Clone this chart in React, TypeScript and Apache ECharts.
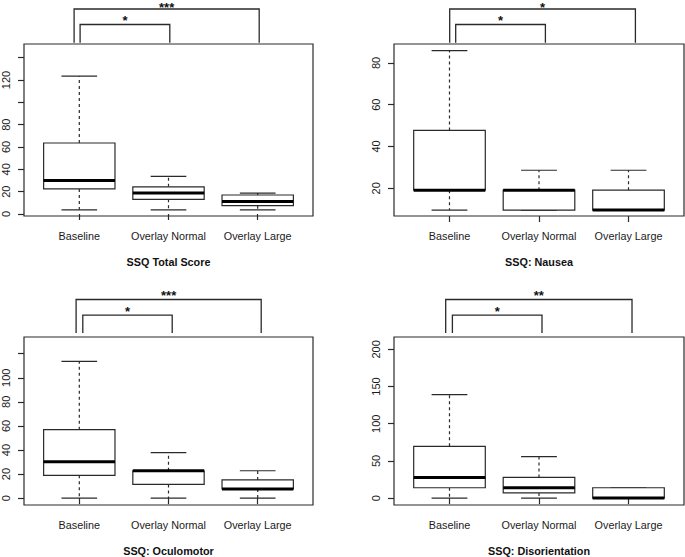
import React, { useEffect, useRef } from "react";
import * as echarts from "echarts";

// ---- data ----
const categories = ["Baseline", "Overlay Normal", "Overlay Large"];

// [min, Q1, median, Q3, max] per category
const totalScore = [
  [3.74, 22.44, 29.92, 63.58, 123.42],
  [3.74, 13.09, 18.7, 24.31, 33.66],
  [3.74, 7.48, 11.22, 17.0, 18.7],
];
const nausea = [
  [9.54, 19.08, 19.08, 47.7, 85.86],
  [9.54, 9.54, 19.08, 19.08, 28.62],
  [9.54, 9.54, 9.54, 19.08, 28.62],
];
const oculomotor = [
  [0, 18.95, 30.32, 56.85, 113.7],
  [0, 11.37, 22.74, 22.74, 37.9],
  [0, 7.58, 7.58, 15.16, 22.74],
];
const disorientation = [
  [0, 13.92, 27.84, 69.6, 139.2],
  [0, 6.96, 13.92, 27.84, 55.68],
  [0, 0, 0, 13.92, 13.92],
];

const titles = ["SSQ Total Score", "SSQ: Nausea", "SSQ: Oculomotor", "SSQ: Disorientation"];

// significance comparisons: [from category, to category, label]
const sigTotal = [[0, 1, "*"], [0, 2, "***"]];
const sigNausea = [[0, 1, "*"], [0, 2, "*"]];
const sigOculo = [[0, 1, "*"], [0, 2, "***"]];
const sigDisor = [[0, 1, "*"], [0, 2, "**"]];

// y-axis ticks and labels
const ticksTotal = [0, 20, 40, 60, 80, 100, 120, 140];
const labelsTotal = [0, 20, 40, 60, 80, 120];
const ticksNausea = [20, 40, 60, 80];
const labelsNausea = [20, 40, 60, 80];
const ticksOculo = [0, 20, 40, 60, 80, 100, 120];
const labelsOculo = [0, 20, 40, 60, 80, 100];
const ticksDisor = [0, 50, 100, 150, 200];
const labelsDisor = [0, 50, 100, 150, 200];

// ---- layout (pixels / axis ranges) ----
const panels = [
  {
    data: totalScore, sig: sigTotal, ticks: ticksTotal, labels: labelsTotal,
    grid: { left: 23, top: 44, width: 290, height: 172 },
    yRange: [-1.8, 152.2],
    br: { outer: 35, inner: 19.5, leg: 1.2 },
    legOff: [[0.8, 1.3], [-5.2, 1.5]],
  },
  {
    data: nausea, sig: sigNausea, ticks: ticksNausea, labels: labelsNausea,
    grid: { left: 394, top: 44, width: 290, height: 172 },
    yRange: [6.72, 89.05],
    br: { outer: 35, inner: 19.5, leg: 1.2 },
    legOff: [[6.2, 6.4], [0.2, 6.9]],
  },
  {
    data: oculomotor, sig: sigOculo, ticks: ticksOculo, labels: labelsOculo,
    grid: { left: 23, top: 337, width: 290, height: 171 },
    yRange: [-5.7, 133.9],
    br: { outer: 37.5, inner: 21.8, leg: 4 },
    legOff: [[3.5, 3.7], [-3.2, 3.5]],
  },
  {
    data: disorientation, sig: sigDisor, ticks: ticksDisor, labels: labelsDisor,
    grid: { left: 394, top: 337, width: 290, height: 171 },
    yRange: [-9.25, 216.6],
    br: { outer: 37.5, inner: 21.8, leg: 4 },
    legOff: [[2.9, 3.0], [-3.8, 3.5]],
  },
];

const FONT = "'Liberation Sans', Arial, Helvetica, sans-serif";
const LINE = "#2a2a2a";

export default function App() {
  const ref = useRef<HTMLDivElement>(null);

  useEffect(() => {
    if (!ref.current) return;
    const chart = echarts.init(ref.current, undefined, { renderer: "svg" });

    const grids: any[] = [];
    const xAxes: any[] = [];
    const yAxes: any[] = [];
    const series: any[] = [];

    panels.forEach((p, i) => {
      grids.push({
        ...p.grid,
        show: true,
        borderColor: LINE,
        borderWidth: 1.2,
        backgroundColor: "transparent",
      });
      xAxes.push({
        type: "value",
        gridIndex: i,
        min: 0.38,
        max: 3.62,
        axisLine: { show: false },
        splitLine: { show: false },
        axisTick: {
          show: true,
          length: 6,
          lineStyle: { color: LINE, width: 1.2 },
          customValues: [1, 2, 3],
        },
        axisLabel: {
          customValues: [1, 2, 3],
          margin: 14.5,
          color: "#1a1a1a",
          fontFamily: FONT,
          fontSize: 10.8,
          formatter: (v: number) => categories[Math.round(v) - 1] ?? "",
        },
        name: titles[i],
        nameLocation: "middle",
        nameGap: 40,
        nameTextStyle: {
          fontFamily: FONT,
          fontSize: 10.8,
          fontWeight: "bold",
          color: "#111",
        },
      });
      yAxes.push({
        type: "value",
        gridIndex: i,
        min: p.yRange[0],
        max: p.yRange[1],
        axisLine: { show: false },
        splitLine: { show: false },
        axisTick: {
          show: true,
          length: 6,
          lineStyle: { color: LINE, width: 1.2 },
          customValues: p.ticks,
        },
        axisLabel: {
          customValues: p.labels,
          rotate: 90,
          margin: 13,
          color: "#1a1a1a",
          fontFamily: FONT,
          fontSize: 11,
        },
      });

      // boxes
      series.push({
        type: "custom",
        xAxisIndex: i,
        yAxisIndex: i,
        data: p.data.map((d, k) => [k + 1, ...d]),
        renderItem: (params: any, api: any) => {
          const cx = api.value(0);
          const pt = (v: number) => api.coord([cx, v]);
          const x = pt(api.value(3))[0];
          const yMin = pt(api.value(1))[1];
          const yQ1 = pt(api.value(2))[1];
          const yMed = pt(api.value(3))[1];
          const yQ3 = pt(api.value(4))[1];
          const yMax = pt(api.value(5))[1];
          const unit = api.size([1, 0])[0];
          const half = unit * 0.4;
          const cap = unit * 0.2;
          const thin = { stroke: LINE, lineWidth: 1.2, fill: null };
          const dashed = { stroke: LINE, lineWidth: 1.2, lineDash: [3, 3], fill: null };
          return {
            type: "group",
            children: [
              { type: "line", shape: { x1: x, y1: yQ3, x2: x, y2: yMax }, style: dashed },
              { type: "line", shape: { x1: x, y1: yQ1, x2: x, y2: yMin }, style: dashed },
              { type: "line", shape: { x1: x - cap, y1: yMax, x2: x + cap, y2: yMax }, style: thin },
              { type: "line", shape: { x1: x - cap, y1: yMin, x2: x + cap, y2: yMin }, style: thin },
              {
                type: "rect",
                shape: { x: x - half, y: yQ3, width: half * 2, height: yQ1 - yQ3 },
                style: { stroke: LINE, lineWidth: 1.2, fill: "#fff" },
              },
              {
                type: "line",
                shape: { x1: x - half, y1: yMed, x2: x + half, y2: yMed },
                style: { stroke: "#000", lineWidth: 3, fill: null },
              },
            ],
          };
        },
      });

      // significance brackets
      series.push({
        type: "custom",
        xAxisIndex: i,
        yAxisIndex: i,
        clip: false,
        silent: true,
        data: p.sig.map((s, k) => [(s[0] as number) + 1, (s[1] as number) + 1, k]),
        renderItem: (params: any, api: any) => {
          const k = api.value(2);
          const s = p.sig[k];
          const off = p.legOff[k];
          const cs = params.coordSys;
          const top = cs && cs.y !== undefined ? cs.y : p.grid.top;
          const xl = api.coord([api.value(0), 0])[0] + off[0];
          const xr = api.coord([api.value(1), 0])[0] + off[1];
          const ly = top - (k === 0 ? p.br.inner : p.br.outer);
          const yb = top - p.br.leg;
          return {
            type: "group",
            children: [
              {
                type: "polyline",
                shape: { points: [[xl, yb], [xl, ly], [xr, ly], [xr, yb]] },
                style: { stroke: LINE, lineWidth: 1.3, fill: null },
              },
              {
                type: "text",
                x: (xl + xr) / 2,
                y: Math.max(ly - 3.6, 7),
                style: {
                  text: s[2],
                  fontFamily: FONT,
                  fontSize: 13,
                  fontWeight: "bold",
                  fill: "#111",
                  align: "center",
                  verticalAlign: "middle",
                },
              },
            ],
          };
        },
      });
    });

    chart.setOption({
      animation: false,
      backgroundColor: "#fff",
      grid: grids,
      xAxis: xAxes,
      yAxis: yAxes,
      series,
    });

    return () => chart.dispose();
  }, []);

  return (
    <div
      ref={ref}
      style={{ position: "absolute", left: 0, top: 0, width: 685, height: 557 }}
    />
  );
}
